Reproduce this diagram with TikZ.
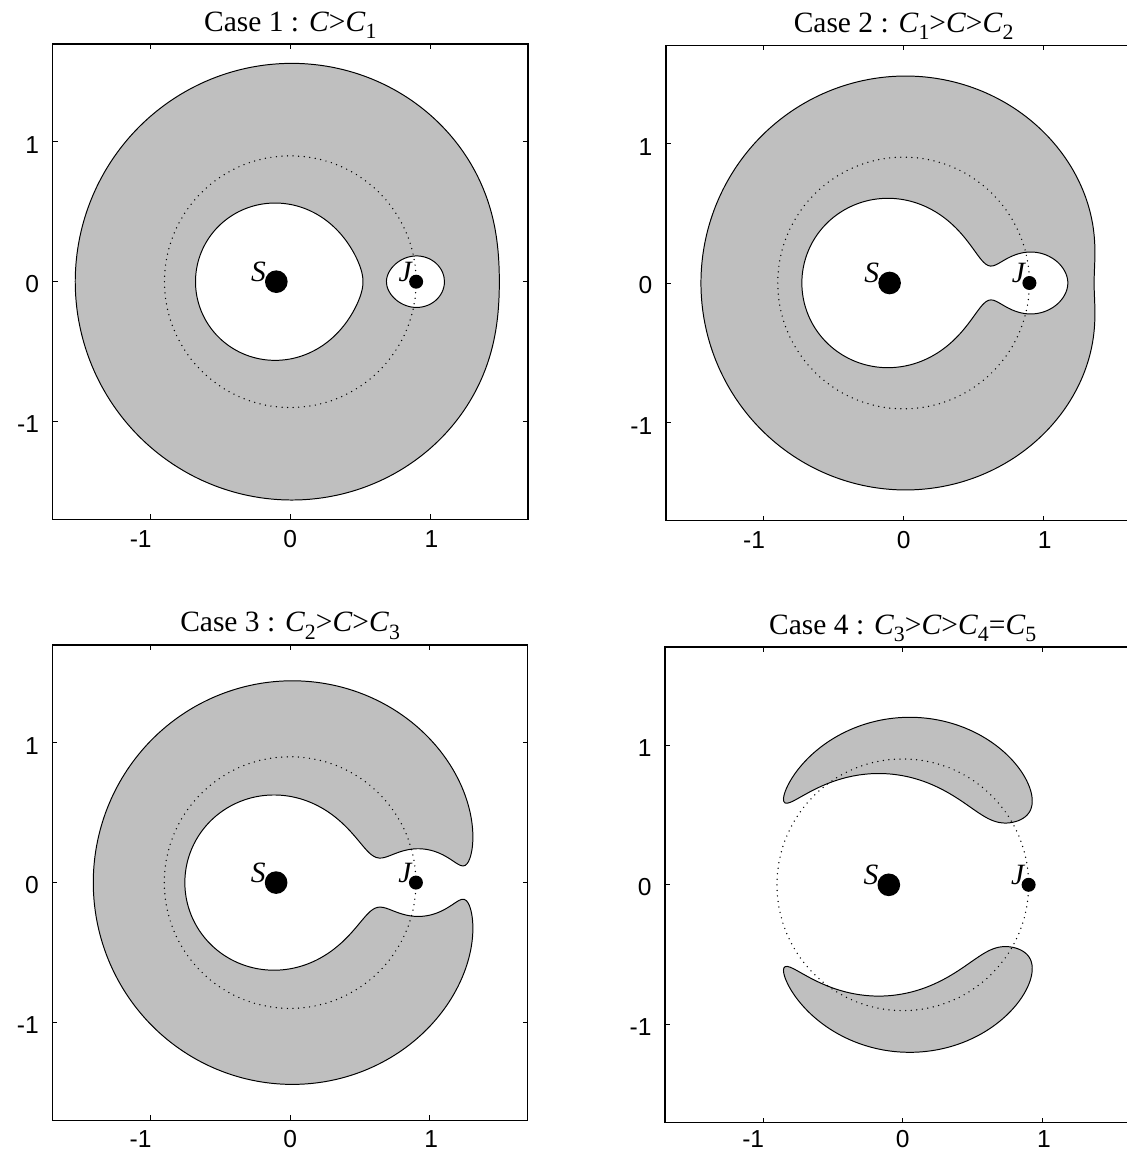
\documentclass[tikz,border=0pt]{standalone}
\usepackage{fontspec}
\setmainfont{Liberation Serif}
\newfontfamily\ticksf{Liberation Sans}
\definecolor{hillgray}{RGB}{191,191,191}

\ExplSyntaxOn
\fp_new:N \l_hz_x_fp
\fp_new:N \l_hz_y_fp
\fp_new:N \l_hz_ra_fp
\fp_new:N \l_hz_rb_fp
\fp_new:N \l_hz_f_fp
\fp_new:N \l_hz_ka_fp
\fp_new:N \l_hz_kb_fp
\fp_new:N \l_hz_fx_fp
\fp_new:N \l_hz_fy_fp
\fp_new:N \l_hz_C_fp
\fp_new:N \l_hz_h_fp
\fp_new:N \l_hz_g_fp
\fp_new:N \l_hz_n_fp
\fp_new:N \l_hz_xs_fp
\fp_new:N \l_hz_ys_fp
\fp_new:N \l_hz_a_fp
\fp_new:N \l_hz_b_fp
\fp_new:N \l_hz_m_fp
\fp_new:N \l_hz_sa_fp
\int_new:N \l_hz_k_int
\bool_new:N \l_hz_done_bool
\tl_new:N \l_hz_path_tl

\cs_new_protected:Npn \hz_eval:
  {
    \fp_set:Nn \l_hz_ra_fp { sqrt( (\l_hz_x_fp + 0.1)^2 + (\l_hz_y_fp)^2 ) }
    \fp_set:Nn \l_hz_rb_fp { sqrt( (\l_hz_x_fp - 0.9)^2 + (\l_hz_y_fp)^2 ) }
    \fp_set:Nn \l_hz_f_fp { (\l_hz_x_fp)^2 + (\l_hz_y_fp)^2 + 1.8 / \l_hz_ra_fp + 0.2 / \l_hz_rb_fp - \l_hz_C_fp }
  }
\cs_new_protected:Npn \hz_grad:
  {
    \hz_eval:
    \fp_set:Nn \l_hz_ka_fp { 1.8 / (\l_hz_ra_fp)^3 }
    \fp_set:Nn \l_hz_kb_fp { 0.2 / (\l_hz_rb_fp)^3 }
    \fp_set:Nn \l_hz_fx_fp { 2 * \l_hz_x_fp - \l_hz_ka_fp * (\l_hz_x_fp + 0.1) - \l_hz_kb_fp * (\l_hz_x_fp - 0.9) }
    \fp_set:Nn \l_hz_fy_fp { \l_hz_y_fp * (2 - \l_hz_ka_fp - \l_hz_kb_fp) }
  }
\cs_new_protected:Npn \hz_correct:
  {
    \prg_replicate:nn { 3 }
      {
        \hz_grad:
        \fp_set:Nn \l_hz_g_fp { \l_hz_f_fp / ( (\l_hz_fx_fp)^2 + (\l_hz_fy_fp)^2 ) }
        \fp_set:Nn \l_hz_x_fp { \l_hz_x_fp - \l_hz_g_fp * \l_hz_fx_fp }
        \fp_set:Nn \l_hz_y_fp { \l_hz_y_fp - \l_hz_g_fp * \l_hz_fy_fp }
      }
  }
\cs_new:Npn \hz_pt:
  { ( \fp_eval:n { round(\l_hz_x_fp, 4) } , \fp_eval:n { round(\l_hz_y_fp, 4) } ) }

\cs_new_protected:Npn \hz_start:nnnnnnn #1#2#3#4#5#6#7
  {
    \fp_set:Nn \l_hz_C_fp {#1}
    \fp_set:Nn \l_hz_a_fp {#6}
    \fp_set:Nn \l_hz_b_fp {#7}
    \fp_set:Nn \l_hz_x_fp { #2 + (#6) * (#4) }
    \fp_set:Nn \l_hz_y_fp { #3 + (#6) * (#5) }
    \hz_eval:
    \fp_set:Nn \l_hz_sa_fp { sign(\l_hz_f_fp) }
    \prg_replicate:nn { 45 }
      {
        \fp_set:Nn \l_hz_m_fp { (\l_hz_a_fp + \l_hz_b_fp) / 2 }
        \fp_set:Nn \l_hz_x_fp { #2 + \l_hz_m_fp * (#4) }
        \fp_set:Nn \l_hz_y_fp { #3 + \l_hz_m_fp * (#5) }
        \hz_eval:
        \fp_compare:nNnTF { sign(\l_hz_f_fp) } = { \l_hz_sa_fp }
          { \fp_set_eq:NN \l_hz_a_fp \l_hz_m_fp }
          { \fp_set_eq:NN \l_hz_b_fp \l_hz_m_fp }
      }
  }

\cs_new_protected:Npn \hz_trace:Nn #1 #2
  {
    \fp_set:Nn \l_hz_h_fp {#2}
    \hz_correct:
    \fp_set_eq:NN \l_hz_xs_fp \l_hz_x_fp
    \fp_set_eq:NN \l_hz_ys_fp \l_hz_y_fp
    \tl_set:Nx \l_hz_path_tl { \hz_pt: }
    \int_zero:N \l_hz_k_int
    \bool_set_false:N \l_hz_done_bool
    \bool_until_do:Nn \l_hz_done_bool
      {
        \hz_grad:
        \fp_set:Nn \l_hz_n_fp { \l_hz_h_fp / sqrt( (\l_hz_fx_fp)^2 + (\l_hz_fy_fp)^2 ) }
        \fp_set:Nn \l_hz_x_fp { \l_hz_x_fp - \l_hz_n_fp * \l_hz_fy_fp }
        \fp_set:Nn \l_hz_y_fp { \l_hz_y_fp + \l_hz_n_fp * \l_hz_fx_fp }
        \hz_correct:
        \int_incr:N \l_hz_k_int
        \fp_compare:nNnT
          { sqrt( (\l_hz_x_fp - \l_hz_xs_fp)^2 + (\l_hz_y_fp - \l_hz_ys_fp)^2 ) }
          < { 0.6 * \l_hz_h_fp }
          { \int_compare:nNnT { \l_hz_k_int } > { 10 } { \bool_set_true:N \l_hz_done_bool } }
        \int_compare:nNnT { \l_hz_k_int } > { 3000 } { \bool_set_true:N \l_hz_done_bool }
        \bool_if:NF \l_hz_done_bool
          { \tl_put_right:Nx \l_hz_path_tl { -- \hz_pt: } }
      }
    \tl_put_right:Nn \l_hz_path_tl { -- ~ cycle }
    \cs_gset_eq:NN #1 \l_hz_path_tl
  }

\NewDocumentCommand \HZcurve { m m m m m m m m }
  {
    \hz_start:nnnnnnn {#2}{#3}{#4}{#5}{#6}{#7}{#8}
    \hz_trace:Nn #1 { 0.02 }
  }
\NewDocumentCommand \HZpath { m m }
  { \use:e { \exp_not:N \path [ \exp_not:n {#1} ] \exp_not:V #2 ; } }
\ExplSyntaxOff

% contours of x^2+y^2+2(1-mu)/r1+2mu/r2 = C, mu = 0.1
\HZcurve\HZaOut{3.70}{0}{0}{1}{0}{-1.0}{-2.0}
\HZcurve\HZaS{3.70}{0}{0}{1}{0}{-0.12}{-1.0}
\HZcurve\HZaJ{3.70}{0}{0}{1}{0}{0.92}{1.3}
\HZcurve\HZbOut{3.52}{0}{0}{1}{0}{-1.0}{-2.0}
\HZcurve\HZbIn{3.52}{0}{0}{1}{0}{-0.12}{-1.0}
\HZcurve\HZc{3.445}{0}{0}{1}{0}{-1.0}{-2.0}
\HZcurve\HZd{3.065}{0}{0}{0}{1}{1.0}{1.5}

\newcommand\hzsub[1]{\raisebox{-0.24em}{\scalebox{0.74}{#1}}}

\tikzset{
  frame/.style={line width=0.8pt, line join=miter},
  tickmark/.style={line width=0.6pt},
  ticklab/.style={font=\ticksf\fontsize{15}{16}\selectfont, inner sep=0pt},
  ptitle/.style={font=\fontsize{18}{20}\selectfont, inner sep=0pt, anchor=base},
  bodylab/.style={font=\itshape\fontsize{18}{20}\selectfont, inner sep=0pt, anchor=base},
  forbid/.style={fill=hillgray, draw=black, line width=0.6pt},
  hole/.style={fill=white, draw=black, line width=0.6pt},
  orbitdots/.style={line width=0.9pt, line cap=round, dash pattern=on 0pt off 3.4pt},
}

% #1 = name prefix, #2 = y of the x tick labels
\newcommand\hzframe[2]{%
  \draw[frame] (-1.7,-1.7) rectangle (1.7,1.7);
  \foreach \t in {-1,0,1} {
    \draw[tickmark] (\t,-1.7) -- ++(0,0.035);
    \draw[tickmark] (\t,1.7) -- ++(0,-0.035);
    \draw[tickmark] (-1.7,\t) -- ++(0.035,0);
    \draw[tickmark] (1.7,\t) -- ++(-0.035,0);
  }
  \node[ticklab, anchor=north] (#1xm) at (-1.07,#2) {-1};
  \node[ticklab, anchor=north] (#1xz) at (0,#2) {0};
  \node[ticklab, anchor=north] (#1xp) at (1.01,#2) {1};
  \node[ticklab, anchor=east] (#1ym) at (-1.795,-1.02) {-1};
  \node[ticklab, anchor=east] (#1yz) at (-1.795,-0.015) {0};
  \node[ticklab, anchor=east] (#1yp) at (-1.795,0.975) {1};
}
\newcommand\hzbodies[1]{%
  \draw[orbitdots] (0,0) circle (0.9);
  \fill (-0.1,0) circle (0.081);
  \fill (0.9,0) circle (0.050);
  \node[bodylab] (#1S) at (-0.228,0) {S};
  \node[bodylab] (#1J) at (0.822,0.004) {J};
}

\begin{document}
\begin{tikzpicture}[x=3cm,y=3cm]
\useasboundingbox (0,0) rectangle (8.0615,8.2332);
\clip (0,0) rectangle (8.0615,8.2332);

% Case 1
\begin{scope}[shift={(2.0766,6.2182)}]
  \HZpath{forbid}\HZaOut
  \HZpath{hole}\HZaS
  \HZpath{hole}\HZaJ
  \hzbodies{a}
  \hzframe{a}{-1.775}
  \node[ptitle] (ta) at (0,1.793) {Case 1 : \textit{C}>\textit{C}\hzsub{1}};
\end{scope}

% Case 2
\begin{scope}[shift={(6.4635,6.2089)}]
  \HZpath{forbid}\HZbOut
  \HZpath{hole}\HZbIn
  \hzbodies{b}
  \hzframe{b}{-1.775}
  \node[ptitle] (tb) at (0,1.793) {Case 2 : \textit{C}\hzsub{1}>\textit{C}>\textit{C}\hzsub{2}};
\end{scope}

% Case 3
\begin{scope}[shift={(2.0751,1.9199)}]
  \HZpath{forbid}\HZc
  \hzbodies{c}
  \hzframe{c}{-1.770}
  \node[ptitle] (tc) at (0,1.793) {Case 3 : \textit{C}\hzsub{2}>\textit{C}>\textit{C}\hzsub{3}};
\end{scope}

% Case 4
\begin{scope}[shift={(6.4578,1.9041)}]
  \HZpath{forbid}\HZd
  \begin{scope}[yscale=-1]
    \HZpath{forbid}\HZd
  \end{scope}
  \hzbodies{d}
  \hzframe{d}{-1.755}
  \node[ptitle] (td) at (0,1.793) {Case 4 : \textit{C}\hzsub{3}>\textit{C}>\textit{C}\hzsub{4}=\textit{C}\hzsub{5}};
\end{scope}
\end{tikzpicture}
\end{document}
